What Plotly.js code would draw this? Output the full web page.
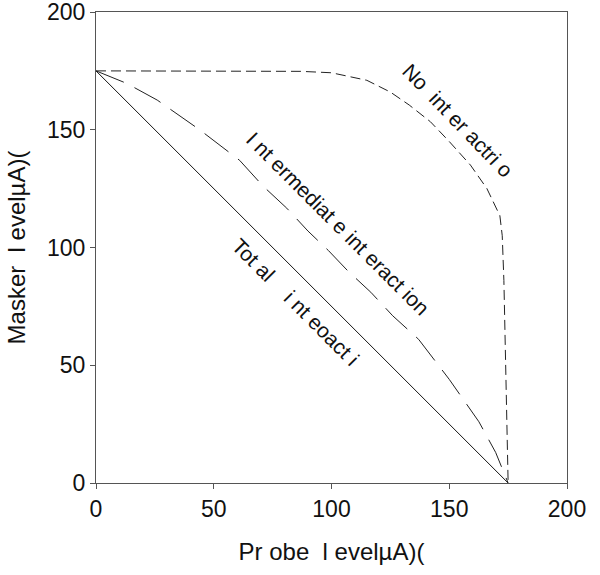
<!DOCTYPE html>
<html>
<head>
<meta charset="utf-8">
<script src="https://cdn.plot.ly/plotly-3.0.1.min.js"></script>
<style>html,body{margin:0;padding:0;background:#fff;}#chart{width:600px;height:575px;}</style>
</head>
<body>
<div id="chart"></div>
<script>
// Data
const totalX = [0, 175];
const totalY = [175, 0];

const interX = [0, 13, 26, 44, 61, 71, 81, 90, 98.7, 107, 116.7, 126, 137, 150, 162.6, 169.7, 175];
const interY = [175, 169.7, 162.6, 150, 137, 126, 116.7, 107, 98.7, 90, 81, 71, 61, 44, 26, 13, 0];

const noX = [0, 50, 87, 100, 115, 125, 133, 142, 150, 159, 166, 171.5, 172.5, 173.2, 175];
const noY = [175, 175, 174.8, 174.2, 171, 166, 160.5, 153.4, 145, 135, 125, 113.5, 105, 86, 0];

const tickVals = [0, 50, 100, 150, 200];
const tickText = ["0", "50", "100", "150", "200"];

const labelTotal = "Tot al    i nt eoact i";
const labelInter = "I nt ermediat e int eract ion";
const labelNo = "No  int er actri o";
const xTitle = "Pr obe  l evelµA)(";
const yTitle = "Masker  l evelµA)(";

const font = "Liberation Sans, Arial, sans-serif";

const traces = [
  {x: totalX, y: totalY, mode: "lines", name: "Total interaction",
   line: {color: "#111", width: 1}},
  {x: interX, y: interY, mode: "lines", name: "Intermediate interaction",
   line: {color: "#222", width: 1, dash: "30px,12px"}},
  {x: noX, y: noY, mode: "lines", name: "No interaction",
   line: {color: "#222", width: 1, dash: "10px,5px"}}
];

const axisCommon = {
  range: [0, 200], tickvals: tickVals, ticktext: tickText,
  ticks: "outside", ticklen: 5, tickcolor: "#555", tickwidth: 1,
  showline: true, linecolor: "#555", linewidth: 1, mirror: true,
  showgrid: false, zeroline: false,
  ticklabeloverflow: "allow",
  tickfont: {family: font, size: 23, color: "#111"},
  fixedrange: true
};

const layout = {
  width: 600, height: 575,
  margin: {l: 96, r: 33, t: 12, b: 92},
  paper_bgcolor: "#fff", plot_bgcolor: "#fff",
  showlegend: false,
  xaxis: Object.assign({}, axisCommon, {
    title: {text: xTitle, font: {family: font, size: 24, color: "#111"}, standoff: 22}
  }),
  yaxis: Object.assign({}, axisCommon, {
    title: {text: yTitle, font: {family: font, size: 24, color: "#111"}, standoff: 14}
  }),
  annotations: [
    {x: 84.5, y: 76.9, xref: "x", yref: "y", text: labelTotal, showarrow: false,
     textangle: 45, font: {family: font, size: 21, color: "#111"}},
    {x: 102.8, y: 110.4, xref: "x", yref: "y", text: labelInter, showarrow: false,
     textangle: 45, font: {family: font, size: 21, color: "#111"}},
    {x: 153.7, y: 154.1, xref: "x", yref: "y", text: labelNo, showarrow: false,
     textangle: 46, font: {family: font, size: 21, color: "#111"}}
  ]
};

Plotly.newPlot("chart", traces, layout, {displayModeBar: false, staticPlot: true});
</script>
</body>
</html>
